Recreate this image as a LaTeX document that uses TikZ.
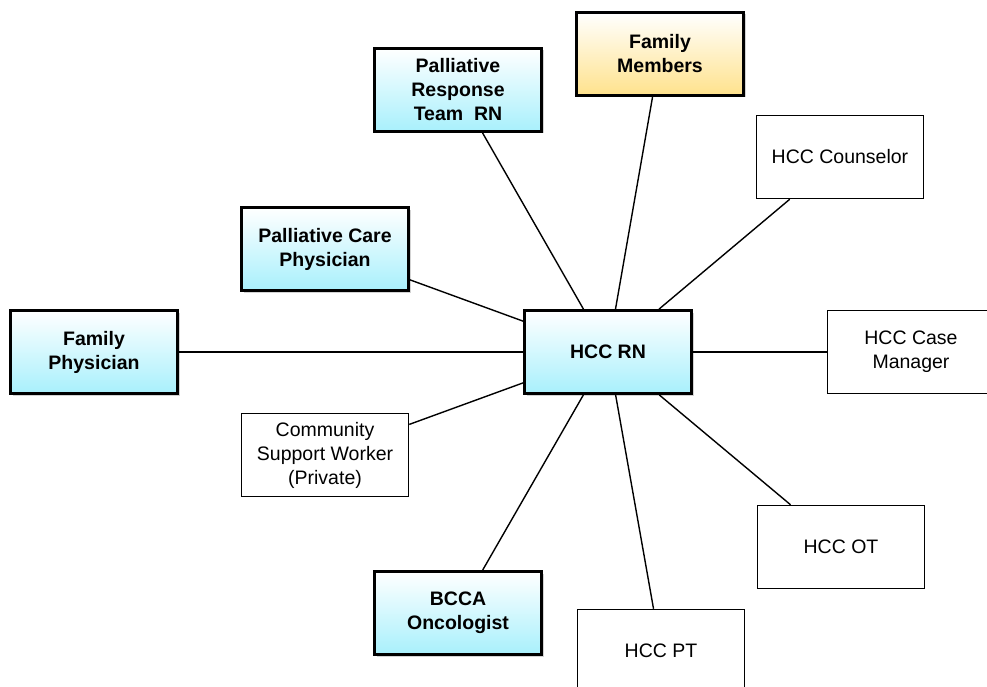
\documentclass[tikz,border=0pt]{standalone}
\usepackage{fontspec}
\setmainfont{Liberation Sans}
\usetikzlibrary{shadows}
\definecolor{cyanbot}{RGB}{168,240,252}
\definecolor{goldbot}{RGB}{255,226,140}
\begin{document}
\begin{tikzpicture}[x=1pt,y=-1pt,
  box/.style={rectangle, minimum width=167pt, minimum height=83pt, align=center,
    inner sep=2pt, font=\fontsize{19.5}{24}\selectfont},
  keybox/.style={box, draw=black, line width=3pt, font=\fontsize{19.5}{24}\selectfont\bfseries,
    top color=white, bottom color=cyanbot,
    drop shadow={shadow xshift=2pt, shadow yshift=-2pt, opacity=0.35}},
  famboxstyle/.style={keybox, bottom color=goldbot},
  plainbox/.style={box, draw=black, line width=1.5pt, fill=white},
  link/.style={draw=black, line width=1.4pt}]
\useasboundingbox (0,0) rectangle (987,687);
\begin{scope}
\clip (0,0) rectangle (987,687);
\node[keybox] (rn) at (608,352) {HCC RN};
\node[famboxstyle] (fam) at (660,54) {Family\\Members};
\node[keybox] (prt) at (458,90) {Palliative\\Response\\Team\ \ RN};
\node[plainbox] (couns) at (840,157) {HCC Counselor};
\node[keybox] (pcp) at (325,249) {Palliative Care\\Physician};
\node[keybox] (fp) at (94,352) {Family\\Physician};
\node[plainbox] (cm) at (911,352) {HCC Case\\Manager};
\node[plainbox] (csw) at (325,455) {Community\\Support Worker\\(Private)};
\node[plainbox] (ot) at (841,547) {HCC OT};
\node[keybox] (bcca) at (458,613) {BCCA\\Oncologist};
\node[plainbox] (pt) at (661,651) {HCC PT};
\begin{scope}[on background layer/.try]
\end{scope}
\draw[link] (rn) -- (fam);
\draw[link] (rn) -- (prt);
\draw[link] (rn) -- (couns);
\draw[link] (rn) -- (pcp);
\draw[link] (rn) -- (fp);
\draw[link] (rn) -- (cm);
\draw[link] (rn) -- (csw);
\draw[link] (rn) -- (ot);
\draw[link] (rn) -- (bcca);
\draw[link] (rn) -- (pt);
\end{scope}
\end{tikzpicture}
\end{document}
